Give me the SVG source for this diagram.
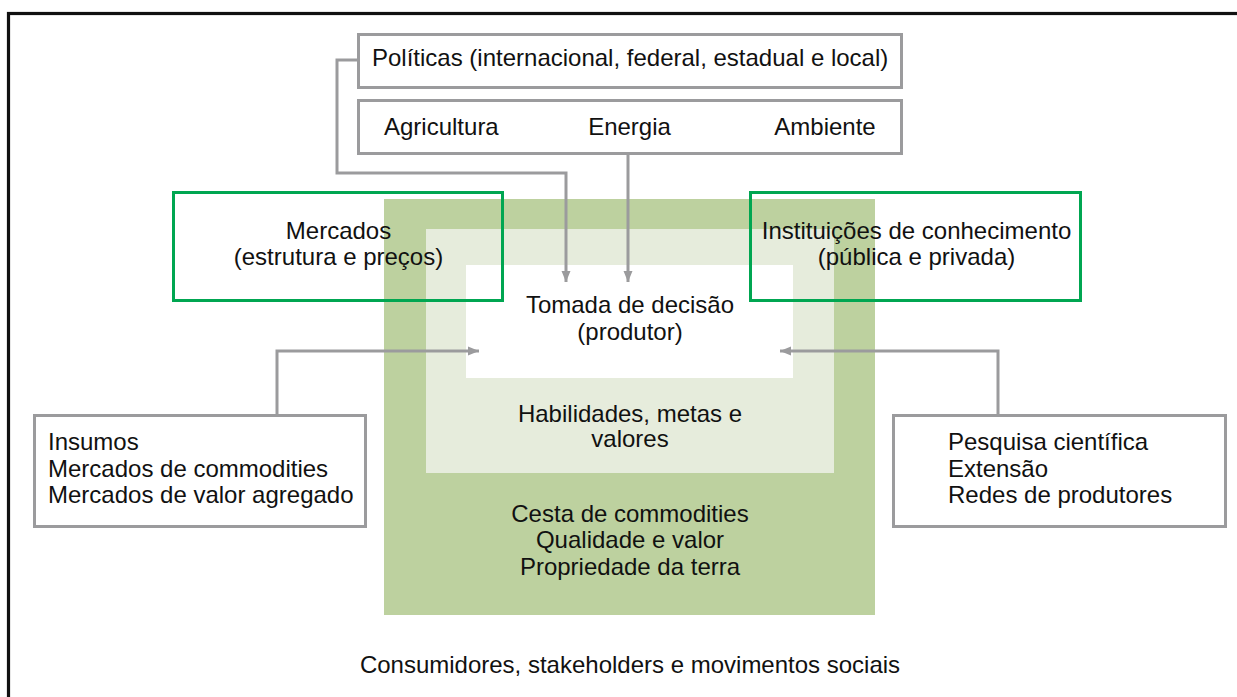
<svg xmlns="http://www.w3.org/2000/svg" width="1237" height="697" viewBox="0 0 1237 697">
<style>
text{font-family:"Liberation Sans",Arial,sans-serif;font-size:24px;fill:#111}
.c{text-anchor:middle}
.gbox{fill:none;stroke:#9b9b9d;stroke-width:3}
.grn{fill:none;stroke:#00a651;stroke-width:3}
.conn{fill:none;stroke:#9b9b9d;stroke-width:3}
</style>
<defs>
<marker id="ah" markerUnits="userSpaceOnUse" markerWidth="12" markerHeight="10" refX="11" refY="5" orient="auto">
<path d="M0,0.5 L11,5 L0,9.5 z" fill="#9b9b9d"/>
</marker>
</defs>
<rect x="0" y="0" width="1237" height="697" fill="#fff"/>
<rect id="frame" x="8.5" y="13.5" width="1300" height="800" fill="none" stroke="#111" stroke-width="3.2"/>

<g id="nest">
<rect x="384" y="199" width="491" height="416" fill="#bdd19f"/>
<rect x="426" y="229" width="408" height="244" fill="#e6ecdc"/>
<rect x="466" y="265" width="327" height="113" fill="#fff"/>
<text class="c" x="630" y="313">Tomada de decisão</text>
<text class="c" x="630" y="340">(produtor)</text>
<text class="c" x="630" y="422">Habilidades, metas e</text>
<text class="c" x="630" y="447">valores</text>
<text class="c" x="630" y="522">Cesta de commodities</text>
<text class="c" x="630" y="548">Qualidade e valor</text>
<text class="c" x="630" y="575">Propriedade da terra</text>
</g>

<g id="politicas">
<rect class="gbox" x="358.5" y="34.5" width="543" height="53"/>
<text x="372" y="66">Políticas (internacional, federal, estadual e local)</text>
</g>

<g id="setores">
<rect class="gbox" x="358.5" y="100.5" width="543" height="53"/>
<text x="384" y="135">Agricultura</text>
<text class="c" x="629.5" y="135">Energia</text>
<text class="c" x="825" y="135">Ambiente</text>
</g>

<g id="mercados">
<rect class="grn" x="173.5" y="192.5" width="329" height="108"/>
<text class="c" x="338.5" y="239">Mercados</text>
<text class="c" x="338.5" y="265">(estrutura e preços)</text>
</g>

<g id="instituicoes">
<rect class="grn" x="750.5" y="192.5" width="330" height="108"/>
<text class="c" x="916.5" y="239">Instituições de conhecimento</text>
<text class="c" x="916.5" y="265">(pública e privada)</text>
</g>

<g id="insumos">
<rect class="gbox" x="34.5" y="415.5" width="331" height="111"/>
<text x="48" y="450">Insumos</text>
<text x="48" y="477">Mercados de commodities</text>
<text x="48" y="503">Mercados de valor agregado</text>
</g>

<g id="pesquisa">
<rect class="gbox" x="893.5" y="415.5" width="332" height="111"/>
<text x="948" y="450">Pesquisa científica</text>
<text x="948" y="477">Extensão</text>
<text x="948" y="503">Redes de produtores</text>
</g>

<g id="consumidores">
<text class="c" x="630" y="673">Consumidores, stakeholders e movimentos sociais</text>
</g>

<g id="connectors">
<path class="conn" d="M358,60 H337 V173 H566 V282" marker-end="url(#ah)"/>
<path class="conn" d="M628,154 V282" marker-end="url(#ah)"/>
<path class="conn" d="M277,415 V351 H479" marker-end="url(#ah)"/>
<path class="conn" d="M998,415 V351 H780" marker-end="url(#ah)"/>
</g>
</svg>
